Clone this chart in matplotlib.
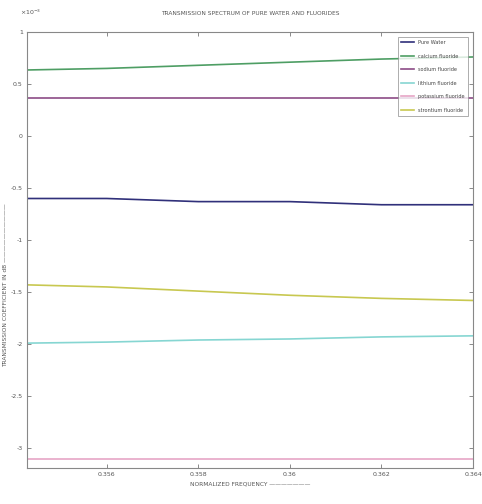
import matplotlib
matplotlib.use("Agg")
import matplotlib.pyplot as plt

x = [0.35426, 0.356, 0.358, 0.360, 0.362, 0.364]
pure_water = [-0.60, -0.60, -0.63, -0.63, -0.66, -0.66]
calcium = [0.635, 0.65, 0.68, 0.71, 0.74, 0.76]
sodium = [0.365, 0.365, 0.365, 0.365, 0.365, 0.365]
lithium = [-1.99, -1.98, -1.96, -1.95, -1.93, -1.92]
potassium = [-3.10, -3.10, -3.10, -3.10, -3.10, -3.10]
strontium = [-1.43, -1.45, -1.49, -1.53, -1.56, -1.58]

names = ["Pure Water", "calcium fluoride", "sodium fluoride",
         "lithium fluoride", "potassium fluoride", "strontium fluoride"]
series = [pure_water, calcium, sodium, lithium, potassium, strontium]
colors = ["#30307a", "#4e9e64", "#8c4c86", "#86d6d2", "#e6a6c6", "#c8c850"]

xticks = [0.356, 0.358, 0.360, 0.362, 0.364]
xticklabels = ["0.356", "0.358", "0.36", "0.362", "0.364"]
yticks = [1, 0.5, 0, -0.5, -1, -1.5, -2, -2.5, -3]
yticklabels = ["1", "0.5", "0", "-0.5", "-1", "-1.5", "-2", "-2.5", "-3"]

fig = plt.figure(figsize=(4.82, 5.04), dpi=100)
ax = fig.add_axes([27/482, 1-468/504, (473-27)/482, (468-32)/504])

for ys, c, n in zip(series, colors, names):
    ax.plot(x, ys, color=c, lw=1.2, label=n)

ax.set_xlim(0.35426, 0.364)
ax.set_ylim(-3.19, 1)
ax.set_xticks(xticks)
ax.set_xticklabels(xticklabels)
ax.set_yticks(yticks)
ax.set_yticklabels(yticklabels)
ax.tick_params(direction="in", top=True, right=True, labelsize=4.5,
               length=3, width=0.6, colors="#777777", labelcolor="#555555", pad=3)
for s in ax.spines.values():
    s.set_color("#888888")
    s.set_linewidth(0.8)

ax.set_title("TRANSMISSION SPECTRUM OF PURE WATER AND FLUORIDES",
             fontsize=4.2, color="#555555", pad=12)
ax.set_xlabel("NORMALIZED FREQUENCY \u2014\u2014\u2014\u2014\u2014\u2014\u2014",
              fontsize=4.2, color="#555555", labelpad=3)
ax.set_ylabel("TRANSMISSION COEFFICIENT IN dB \u2014\u2014\u2014\u2014\u2014\u2014\u2014\u2014\u2014\u2014",
              fontsize=4.2, color="#555555", labelpad=6)
ax.yaxis.set_label_coords(-0.042, 0.42)

fig.text(20/482, 1-12/504, r"$\times10^{-3}$", fontsize=4.5, color="#555555",
         ha="left", va="center")

leg = ax.legend(loc="upper right", fontsize=3.6, frameon=True, fancybox=False,
                handlelength=2.6, borderpad=0.7, labelspacing=1.7,
                bbox_to_anchor=(0.995, 0.995))
leg.get_frame().set_edgecolor("#888888")
leg.get_frame().set_linewidth(0.6)
for t in leg.get_texts():
    t.set_color("#444444")

fig.savefig("out.png", dpi=100, facecolor="white")
